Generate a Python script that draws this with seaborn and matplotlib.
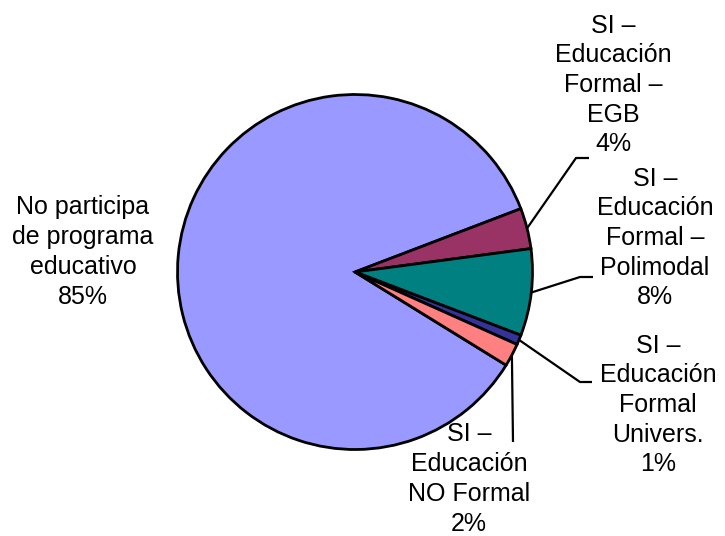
import numpy as np
import matplotlib
matplotlib.use("Agg")
import matplotlib.pyplot as plt
import seaborn as sns

# ── Data ──────────────────────────────────────────────────────
categories = [
    "No participa\nde programa\neducativo",
    "SI –\nEducación\nFormal –\nEGB",
    "SI –\nEducación\nFormal –\nPolimodal",
    "SI –\nEducación\nFormal\nUnivers.",
    "SI –\nEducación\nNO Formal",
]
shares = [85.4, 3.7, 7.9, 0.9, 2.1]
slice_colors = ["#9999FF", "#993366", "#008080", "#333399", "#FF8080"]

# ── Layout (pixel positions of label blocks / leader elbows) ──
W, H = 725, 536
CX, CY, R = 355, 272, 177.5
label_pos = [(83, 252), (613, 85), (655, 238), (658, 405), (469, 479)]
elbows = [None, [(576, 158), (589, 158)], [(580, 277), (593, 277)],
          [(580, 382), (592, 382)], [(513, 442)]]


def px2d(x, y):
    return (x - CX) / R, (CY - y) / R


sns.set_style("white")
plt.rcParams["font.family"] = ["Liberation Sans", "DejaVu Sans"]
plt.rcParams["text.color"] = "black"

fig = plt.figure(figsize=(W / 100, H / 100), dpi=100)
ax = fig.add_axes([0, 0, 1, 1])

palette = sns.color_palette(slice_colors)
total = sum(shares)
start = 20.9 + shares[0] / total * 360
wedges, _ = ax.pie(shares, colors=palette, startangle=start, counterclock=False,
                   radius=1, center=(0, 0),
                   wedgeprops=dict(edgecolor="black", linewidth=2.0))

ax.set_xlim(px2d(0, 0)[0], px2d(W, 0)[0])
ax.set_ylim(px2d(0, H)[1], px2d(0, 0)[1])
ax.set_aspect("auto")
ax.axis("off")

for i, (w, cat, val) in enumerate(zip(wedges, categories, shares)):
    lx, ly = px2d(*label_pos[i])
    ax.text(lx, ly, f"{cat}\n{val / total * 100:.0f}%", ha="center", va="center",
            multialignment="center", fontsize=18, linespacing=1.3, color="black")
    if elbows[i] is None:
        continue
    mid = np.deg2rad((w.theta1 + w.theta2) / 2)
    pts = [(np.cos(mid), np.sin(mid))] + [px2d(*p) for p in elbows[i]]
    xs, ys = zip(*pts)
    ax.plot(xs, ys, color="black", lw=1.6, solid_capstyle="butt")

fig.savefig("out.png", dpi=100)
